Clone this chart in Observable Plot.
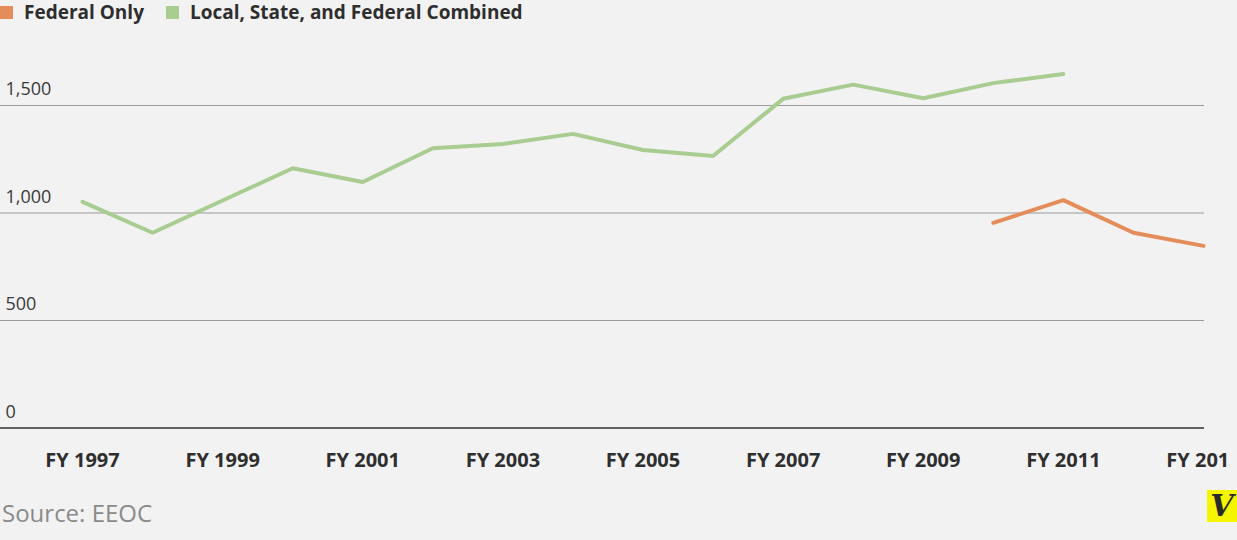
<!DOCTYPE html>
<html>
<head>
<meta charset="utf-8">
<script src="https://cdn.jsdelivr.net/npm/d3@7"></script>
<script src="https://cdn.jsdelivr.net/npm/@observablehq/plot@0.6"></script>
<style>
  html, body { margin: 0; padding: 0; background: #f2f2f2; width: 1237px; height: 540px; overflow: hidden; }
  body { position: relative; font-family: "Open Sans", sans-serif; }
  #legend { position: absolute; left: 0; top: 0; height: 24px; display: flex; align-items: center; font-weight: 700; font-size: 19px; color: #2e2e2e; }
  #legend .sw { display: inline-block; width: 13px; height: 13px; margin-right: 11px; }
  #legend .item { display: flex; align-items: center; margin-right: 22px; }
  #chart { position: absolute; left: 0; top: 30px; width: 1230px; height: 460px; overflow: hidden; }
  #chart svg { max-width: none !important; width: 1237px; }
  #source { position: absolute; left: 2px; top: 496px; font-size: 24px; color: #8a8a8a; font-weight: 400; }
  #logo { position: absolute; left: 1207px; top: 490px; width: 30px; height: 32px; background: #f5f500; font-family: "DejaVu Serif", serif; font-style: italic; font-weight: 700; font-size: 30px; line-height: 32px; text-align: center; color: #2a2a2a; }
</style>
</head>
<body>
<div id="legend"></div>
<div id="chart"></div>
<div id="source">Source: EEOC</div>
<div id="logo">V</div>
<script>
// Discrimination charges by fiscal year (EEOC)
const combinedYears = [1997, 1998, 1999, 2000, 2001, 2002, 2003, 2004, 2005, 2006, 2007, 2008, 2009, 2010, 2011];
const combinedValues = [1052, 908, 1058, 1208, 1144, 1301, 1321, 1368, 1293, 1265, 1531, 1597, 1534, 1604, 1647];
const federalYears = [2010, 2011, 2012, 2013];
const federalValues = [954, 1060, 908, 847];

const seriesNames = ["Federal Only", "Local, State, and Federal Combined"];
const seriesColors = ["#e58d5a", "#a9cc91"];
const xTicks = [1997, 1999, 2001, 2003, 2005, 2007, 2009, 2011, 2013];
const yTicks = [0, 500, 1000, 1500];

const combined = combinedYears.map((year, i) => ({year, value: combinedValues[i]}));
const federal = federalYears.map((year, i) => ({year, value: federalValues[i]}));

// Legend
const legend = document.getElementById("legend");
seriesNames.forEach((name, i) => {
  const item = document.createElement("div");
  item.className = "item";
  const sw = document.createElement("span");
  sw.className = "sw";
  sw.style.background = seriesColors[i];
  item.appendChild(sw);
  item.appendChild(document.createTextNode(name));
  legend.appendChild(item);
});

const chart = Plot.plot({
  width: 1237,
  height: 460,
  marginLeft: 82,
  marginRight: 34,
  marginTop: 75,
  marginBottom: 62.5,
  style: {background: "transparent", fontFamily: "Open Sans, sans-serif", overflow: "visible"},
  x: {domain: [1997, 2013]},
  y: {domain: [0, 1500]},
  marks: [
    Plot.ruleY(yTicks.filter(d => d > 0), {stroke: "#9a9a9a", strokeWidth: 1, insetLeft: -82, insetRight: -1}),
    Plot.ruleY([0], {stroke: "#333", strokeWidth: 1.5, insetLeft: -82, insetRight: -1}),
    Plot.axisY({
      ticks: yTicks,
      tickSize: 0,
      tickPadding: 0,
      textAnchor: "start",
      dx: -77,
      dy: -16,
      fontSize: 18,
      fill: "#3a3a3a",
      tickFormat: d3.format(","),
      label: null
    }),
    Plot.axisX({
      ticks: xTicks,
      tickSize: 0,
      tickPadding: 25,
      fontSize: 20,
      fontWeight: 700,
      fill: "#2e2e2e",
      tickFormat: d => `FY ${d}`,
      label: null
    }),
    Plot.line(combined, {x: "year", y: "value", stroke: seriesColors[1], strokeWidth: 4, strokeLinejoin: "miter"}),
    Plot.line(federal, {x: "year", y: "value", stroke: seriesColors[0], strokeWidth: 4, strokeLinejoin: "miter"})
  ]
});
document.getElementById("chart").appendChild(chart);
</script>
</body>
</html>
